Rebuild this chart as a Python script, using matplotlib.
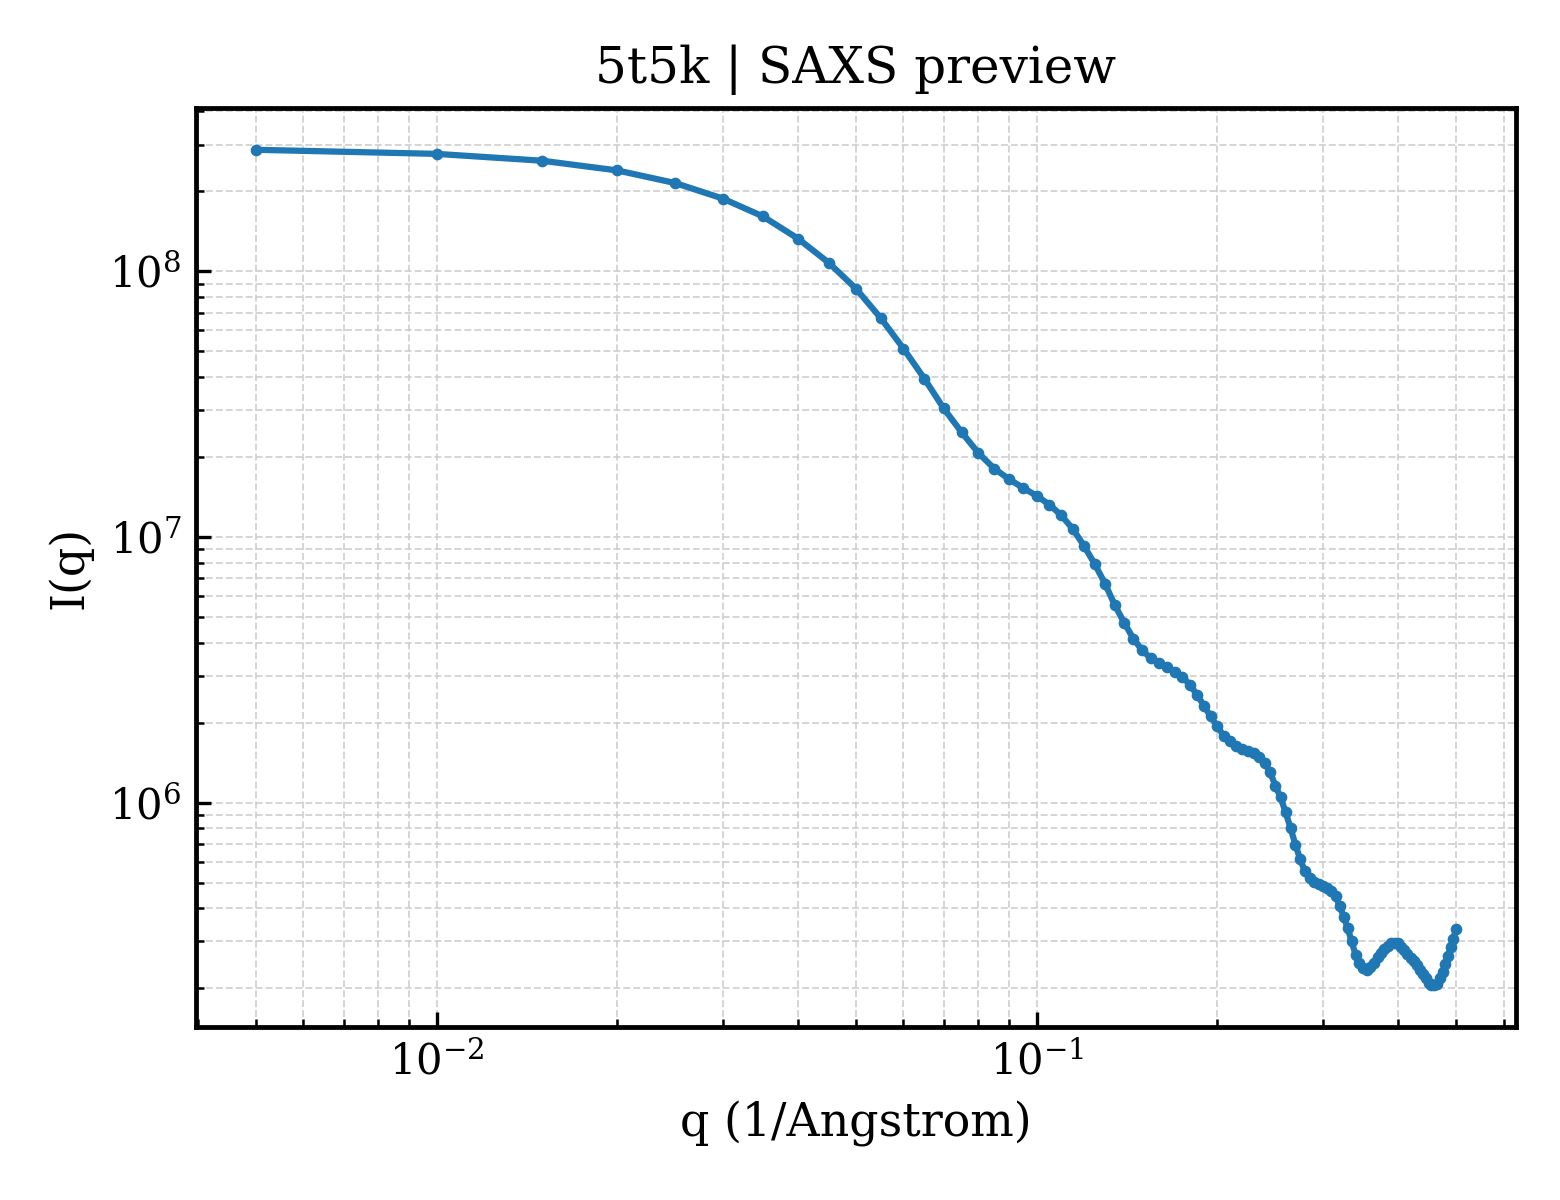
from matplotlib import pyplot as plt
import numpy as np

# scattering vector, 1/Angstrom
q = [0.005 * k for k in range(1, 101)]

# intensities
intensity = [
    2.87e8, 2.77e8, 2.61e8, 2.40e8, 2.15e8, 1.88e8, 1.61e8, 1.33e8, 1.08e8, 8.61e7,
    6.67e7, 5.12e7, 3.95e7, 3.05e7, 2.48e7, 2.07e7, 1.81e7, 1.65e7, 1.53e7, 1.43e7,
    1.325e7, 1.205e7, 1.07e7, 9.25e6, 7.91e6, 6.68e6, 5.54e6, 4.75e6, 4.14e6, 3.74e6,
    3.50e6, 3.36e6, 3.24e6, 3.10e6, 2.98e6, 2.78e6, 2.55e6, 2.32e6, 2.11e6, 1.94e6,
    1.784e6, 1.705e6, 1.637e6, 1.595e6, 1.563e6, 1.532e6, 1.481e6, 1.404e6, 1.304e6, 1.157e6,
    1.047e6, 9.21e5, 8.01e5, 6.95e5, 6.11e5, 5.51e5, 5.20e5, 5.04e5, 4.95e5, 4.85e5,
    4.76e5, 4.64e5, 4.44e5, 4.08e5, 3.72e5, 3.36e5, 3.00e5, 2.68e5, 2.49e5, 2.38e5,
    2.35e5, 2.40e5, 2.50e5, 2.62e5, 2.72e5, 2.82e5, 2.89e5, 2.95e5, 2.97e5, 2.95e5,
    2.87e5, 2.79e5, 2.70e5, 2.61e5, 2.53e5, 2.44e5, 2.35e5, 2.26e5, 2.18e5, 2.10e5,
    2.05e5, 2.05e5, 2.08e5, 2.18e5, 2.30e5, 2.47e5, 2.64e5, 2.86e5, 3.07e5, 3.34e5,
]

pdb_id = "5t5k"

plt.rcParams['font.family'] = 'DejaVu Serif'
plt.rcParams['mathtext.fontset'] = 'dejavuserif'

fig = plt.figure(figsize=(5.2, 4), dpi=300)
ax = fig.add_subplot()
ax.loglog(q, intensity, marker='o', markersize=1.8, linewidth=1.5, color='#1f77b4')

ax.set_xlabel('q (1/Angstrom)', fontsize=11)
ax.set_ylabel('I(q)', fontsize=11)
ax.set_title(f'{pdb_id} | SAXS preview', fontsize=12)

ax.tick_params(which='both', direction='in', labelsize=10)
ax.grid(True, which='both', linestyle='--', linewidth=0.45, color='#cccccc', alpha=0.85)
for s in ax.spines.values():
    s.set_linewidth(1.15)

fig.subplots_adjust(left=0.1256, right=0.9718, top=0.91, bottom=0.144)
fig.savefig('out.png', dpi=300)
